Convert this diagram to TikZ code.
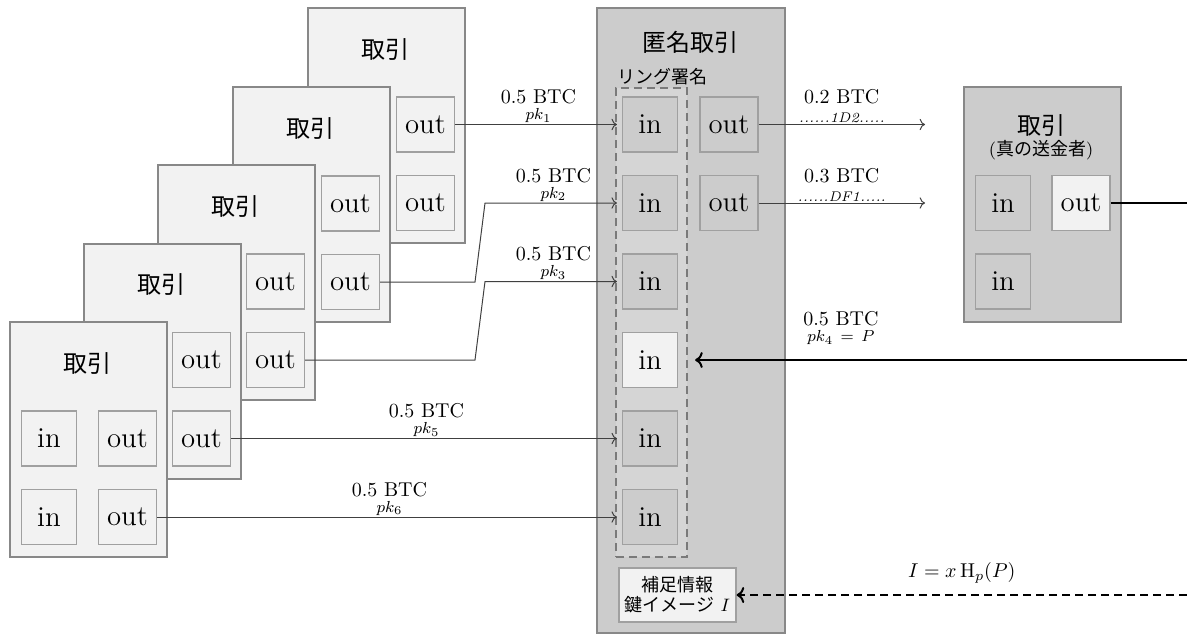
\documentclass[tikz,border=0pt]{standalone}
\usepackage{fontspec}
\newfontfamily\jp{Noto Sans CJK JP}
\usetikzlibrary{arrows.meta,positioning}
\definecolor{paper}{HTML}{F2F2F2}
\definecolor{shade}{HTML}{CCCCCC}
\definecolor{ringfill}{HTML}{D5D5D5}
\definecolor{frame}{HTML}{888888}
\definecolor{ringline}{HTML}{7A7A7A}
\definecolor{cellline}{HTML}{A0A0A0}
\definecolor{wirecol}{HTML}{404040}

\tikzset{
  txbox/.style={draw=frame,line width=1pt,fill=paper,inner sep=0pt,
    minimum width=78.5pt,minimum height=117.5pt,anchor=north west},
  cell/.style={draw=cellline,line width=0.6pt,fill=paper,font=\Large,
    minimum size=27.5pt,inner xsep=4.3pt},
  title/.style={font=\large\jp,inner sep=0pt},
  btclabel/.style={above=10pt,inner sep=0pt,font=\normalsize},
  pklabel/.style={above=0.5pt,inner sep=0pt,font=\footnotesize},
  wire/.style={draw=wirecol,line width=0.5pt,->,shorten >=2.5pt},
  heavy/.style={draw=black,line width=1pt}
}

\begin{document}
\begin{tikzpicture}[x=0.5pt,y=-0.5pt,>=To]
  \useasboundingbox (0,0) rectangle (1187,633);
  % earlier transactions, back to front (inputs of the back ones are hidden)
  \foreach \i/\bx/\by in {5/307/7,4/232/86,3/157/164,2/83/242.5,1/9/321}{
    \node[txbox] (tx\i) at (\bx,\by) {};
    \node[title] at (\bx+78.5,\by+42) {取引};
    \node[cell] (tx\i-out1) at (\bx+118.5,\by+117.5) {out};
    \node[cell] (tx\i-out2) at (\bx+118.5,\by+196) {out};
  }
  \node[cell] (tx1-in1) at (49,438.5) {in};
  \node[cell] (tx1-in2) at (49,517) {in};

  % anonymous transaction
  \node[txbox,fill=shade,minimum width=94pt,minimum height=312.5pt] (anon) at (596,7) {};
  \node[title] at (690,42) {匿名取引};
  \node[draw=ringline,line width=0.9pt,dash pattern=on 4pt off 2.5pt,fill=ringfill,
    anchor=north west,minimum width=35.5pt,minimum height=234.5pt] (ring) at (615,87) {};
  \node[anchor=south west,inner sep=1pt,font=\small\jp] at (ring.north west) {リング署名};
  \foreach \j/\f in {1/shade,2/shade,3/shade,4/paper,5/shade,6/shade}
    \node[cell,fill=\f] (in\j) at (650,{46+78.5*\j}) {in};
  \node[cell,fill=shade] (out1) at (729,124.5) {out};
  \node[cell,fill=shade] (out2) at (729,203) {out};
  \node[draw=cellline,line width=0.6pt,fill=paper,minimum width=58.5pt,minimum height=27pt,
    align=center,font=\small,inner sep=1pt] (aux) at (677.5,595)
    {{\jp 補足情報}\\[-1pt]{\jp 鍵イメージ} $I$};

  % real sender
  \node[txbox,fill=shade] (real) at (963,86) {};
  \node[title] at (1041,125) {取引};
  \node[inner sep=0pt,font=\small] at (1041,150) {({\jp 真の送金者})};
  \node[cell,fill=shade] (real-in1) at (1003,203) {in};
  \node[cell] (real-out1) at (1081,203) {out};
  \node[cell,fill=shade] (real-in2) at (1003,281.5) {in};

  % ring members
  \draw[wire] (tx5-out1) -- node[btclabel] {0.5 BTC} node[pklabel] {$pk_1$} (in1);
  \draw[wire] (tx4-out2) -- (475,282) -- (485,203)
    -- node[btclabel] {0.5 BTC} node[pklabel] {$pk_2$} (in2);
  \draw[wire] (tx3-out2) -- (475,360) -- (485,281.5)
    -- node[btclabel] {0.5 BTC} node[pklabel] {$pk_3$} (in3);
  \draw[wire] (tx2-out2) -- node[btclabel] {0.5 BTC} node[pklabel] {$pk_5$} (in5);
  \draw[wire] (tx1-out2) -- node[btclabel] {0.5 BTC} node[pklabel] {$pk_6$} (in6);

  % outputs
  \coordinate (dest1) at (925,124.5);
  \coordinate (dest2) at (925,203);
  \draw[wire,shorten >=0pt] (out1) -- node[btclabel] {0.2 BTC}
    node[pklabel,font=\scriptsize\itshape] {......1D2.....} (dest1);
  \draw[wire,shorten >=0pt] (out2) -- node[btclabel] {0.3 BTC}
    node[pklabel,font=\scriptsize\itshape] {......DF1.....} (dest2);

  % real input and key image
  \coordinate (edge1) at (1187,203);
  \coordinate (edge2) at (1187,360);
  \coordinate (edge3) at (1187,595);
  \draw[heavy] (real-out1) -- (edge1);
  \draw[heavy,->,shorten >=8.5pt] (edge2) --
    node[btclabel,pos=0.68,yshift=6.5pt] {0.5 BTC}
    node[pklabel,pos=0.68,yshift=6.5pt] {$pk_4\,=\,P$} (in4);
  \draw[heavy,->,dash pattern=on 4pt off 2.5pt] (edge3) --
    node[above=2pt] {$I = x\,\mathrm{H}_p(P)$} (aux);
\end{tikzpicture}
\end{document}
